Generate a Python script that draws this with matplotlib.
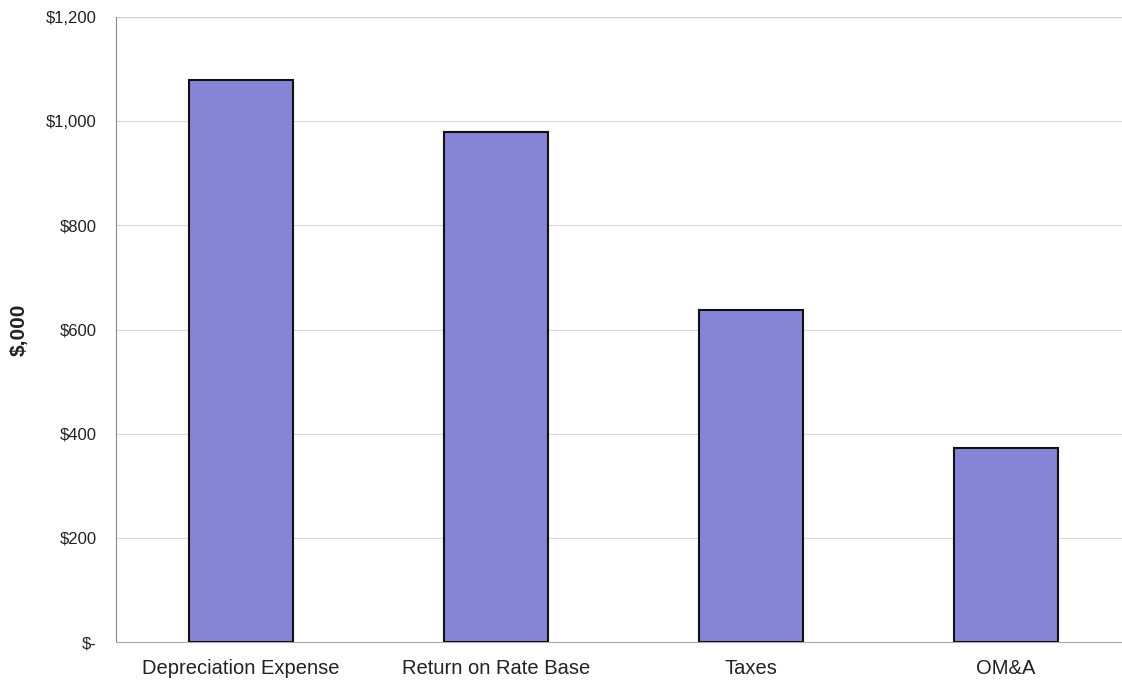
import matplotlib
matplotlib.use("Agg")
import matplotlib.pyplot as plt
from matplotlib.ticker import FuncFormatter

categories = ["Depreciation Expense", "Return on Rate Base", "Taxes", "OM&A"]
values = [1079, 979, 637, 372]
yticks = [0, 200, 400, 600, 800, 1000, 1200]

plt.rcParams['font.family'] = ['Liberation Sans', 'DejaVu Sans']

fig = plt.figure(figsize=(11.22, 6.85), dpi=100)
ax = fig.add_axes([116/1122, 1-642/685, 1020/1122, (642-17)/685])

x = list(range(len(categories)))
ax.bar(x, values, width=0.41, color='#8584d6', edgecolor='#111111', linewidth=1.5, zorder=3)
ax.set_xlim(-0.49, 3.51)
ax.set_ylim(0, 1200)
ax.set_yticks(yticks)
ax.yaxis.set_major_formatter(FuncFormatter(lambda v, p: "$-" if v == 0 else f"${int(v):,}"))
ax.set_xticks(x)
ax.set_xticklabels(categories, fontsize=14.5, color='#222222')
ax.tick_params(axis='y', labelsize=12, length=0, pad=14, labelcolor='#222222')
ax.tick_params(axis='x', length=0, pad=12)
ax.grid(axis='y', color='#d8d8d8', linewidth=0.8, zorder=0)
for s in ['top', 'right']:
    ax.spines[s].set_visible(False)
ax.spines['left'].set_color('#888888')
ax.spines['bottom'].set_color('#aaaaaa')
ax.axhline(1200, color='#cccccc', linewidth=0.8)
ax.set_ylabel("$,000", fontsize=15, fontweight='bold', color='#222222')
ax.yaxis.set_label_coords((29-116)/1020, 0.5)

fig.savefig("out.png", dpi=100)
